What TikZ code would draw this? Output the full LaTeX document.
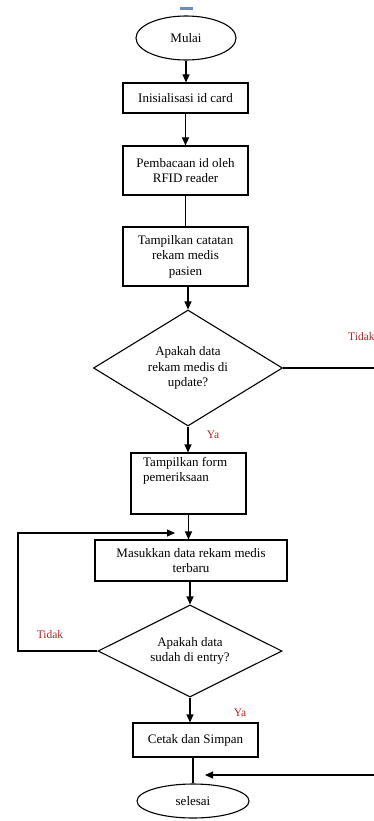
\documentclass[tikz,border=0pt]{standalone}
\usepackage{fontspec}
\setmainfont{Liberation Serif}
\usetikzlibrary{shapes.geometric,arrows.meta}
\definecolor{lblred}{RGB}{185,35,35}
\definecolor{markblue}{RGB}{110,140,190}
\begin{document}
\begin{tikzpicture}[x=1pt,y=-1pt,
  every node/.style={font=\fontsize{13}{15.5}\selectfont, text=black},
  box/.style={draw, line width=1.1pt, rectangle, inner sep=2pt, align=center},
  term/.style={draw, line width=1.1pt, ellipse, inner sep=0pt},
  decision/.style={draw, line width=1.1pt, diamond, aspect=1.6, inner sep=0pt, align=center},
  conn/.style={line width=1.1pt},
  arr/.style={conn, -{Triangle[length=8pt,width=7pt]}},
  lbl/.style={text=lblred, font=\fontsize{11.5}{13}\selectfont, inner sep=0pt}]

\useasboundingbox (0,0) rectangle (374,821);
\clip (0,0) rectangle (374,821);
\fill[white] (0,0) rectangle (374,821);
\fill[markblue] (180,7) rectangle (193,10);

\node[term, minimum width=100pt, minimum height=44pt] (mulai) at (186,38) {Mulai};
\node[box, minimum width=125pt, minimum height=30pt] (init) at (185.5,98) {Inisialisasi id card};
\node[box, minimum width=125pt, minimum height=49pt] (baca) at (185.5,170.5) {Pembacaan id oleh\\RFID reader};
\node[box, minimum width=125pt, minimum height=59pt] (catatan) at (185.5,256.5) {Tampilkan catatan\\rekam medis\\pasien};
\node[decision, minimum width=189pt, minimum height=116pt] (d1) at (188,368) {Apakah data\\rekam medis di\\update?};
\node[box, minimum width=115pt, minimum height=61pt] (form) at (188.5,483.5) {};
\node[anchor=north west, align=left, inner sep=0pt] (formtxt) at (143,457) {Tampilkan form\\pemeriksaan};
\node[box, minimum width=192pt, minimum height=41pt] (masuk) at (191,560.5) {Masukkan data rekam medis\\terbaru};
\node[decision, minimum width=184pt, minimum height=92pt] (d2) at (190,651) {Apakah data\\sudah di entry?};
\node[box, minimum width=125pt, minimum height=34pt] (cetak) at (195.5,740) {Cetak dan Simpan};
\node[term, minimum width=112pt, minimum height=34pt] (selesai) at (193,801) {selesai};

\draw[arr] (mulai.south) -- (mulai.south |- init.north);
\draw[arr] (init.south) -- (init.south |- baca.north);
\draw[conn] (baca.south) -- (baca.south |- catatan.north);
\draw[arr] (catatan.south) -- (catatan.south -| d1.north) -- (d1.north);
\draw[arr] (d1.south) -- (d1.south |- form.north);
\draw[arr] (form.south) -- (form.south |- masuk.north);
\draw[arr] (masuk.south -| d2.north) -- (d2.north);
\draw[arr] (d2.south) -- (d2.south |- cetak.north);
\draw[conn] (selesai.north) -- (selesai.north |- cetak.south);

\coordinate (rE1) at (374,368);
\draw[conn] (d1.east) -- (rE1);
\coordinate (lpA) at (18,651);
\coordinate (lpB) at (175,533);
\draw[arr] (d2.west) -- (lpA) |- (lpB);
\coordinate (rE2) at (374,775);
\coordinate (rT2) at (205,775);
\draw[arr] (rE2) -- (rT2);

\node[lbl, anchor=west] (tidak1) at (348,337) {Tidak};
\node[lbl] (ya1) at (213,435) {Ya};
\node[lbl] (tidak2) at (50,635) {Tidak};
\node[lbl] (ya2) at (240,713) {Ya};
\end{tikzpicture}
\end{document}
